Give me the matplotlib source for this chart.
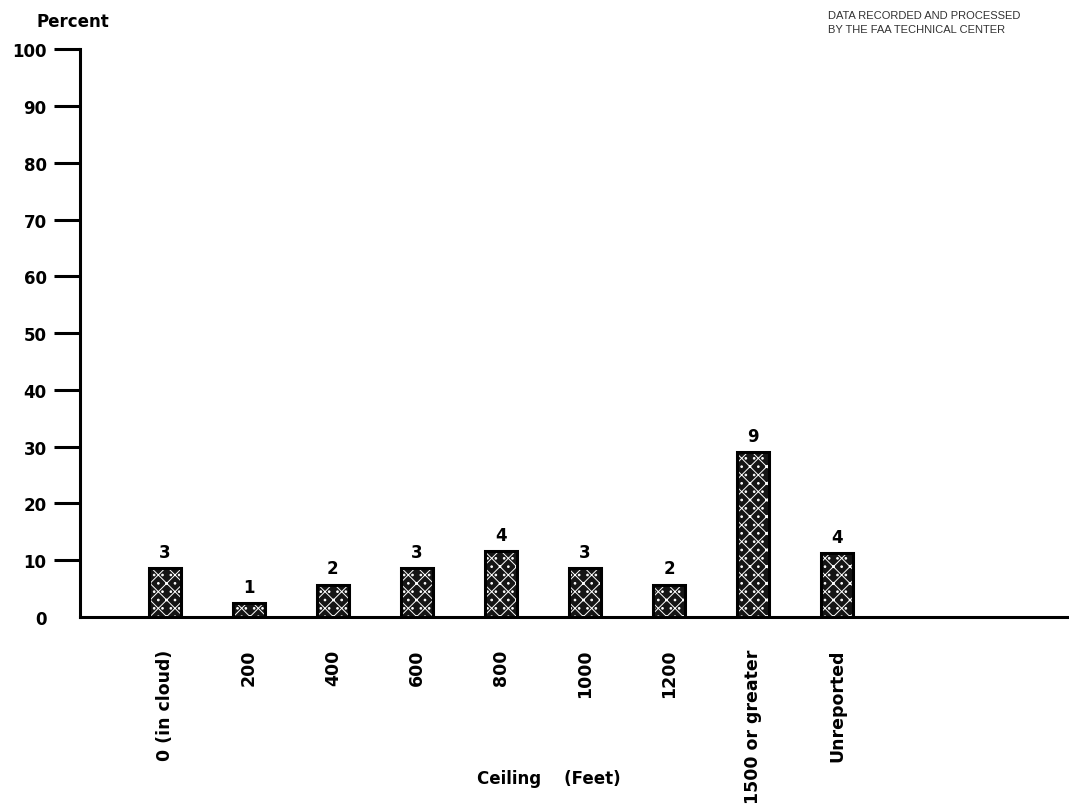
import matplotlib
matplotlib.use("Agg")
import matplotlib.pyplot as plt

categories = ["0 (in cloud)", "200", "400", "600", "800", "1000", "1200",
              "1500 or greater", "Unreported"]
counts = [3, 1, 2, 3, 4, 3, 2, 9, 4]
percent = [8.6, 2.4, 5.7, 8.6, 11.6, 8.6, 5.7, 29.0, 11.2]
yticks = [0, 10, 20, 30, 40, 50, 60, 70, 80, 90, 100]

plt.rcParams['font.family'] = ['DejaVu Sans']
plt.rcParams['hatch.linewidth'] = 0.7

fig = plt.figure(figsize=(10.69, 8.12), dpi=100)
ax = fig.add_axes([0.0748, 0.239, 0.9252, 0.699])

x = list(range(len(categories)))
w = 0.38
ax.bar(x, percent, width=w, color='#151515', edgecolor='white',
       hatch='xx..', linewidth=0, zorder=2)
ax.bar(x, percent, width=w, fill=False, edgecolor='black', linewidth=2.2,
       zorder=3)

for xi, p, c in zip(x, percent, counts):
    ax.text(xi, p + 1.3, str(c), ha='center', va='bottom', fontsize=12,
            fontweight='bold')

ax.set_xlim(-1.01, 10.76)
ax.set_ylim(0, 100)

ax.spines['top'].set_visible(False)
ax.spines['right'].set_visible(False)
ax.spines['left'].set_linewidth(2.2)
ax.spines['bottom'].set_linewidth(2.2)

ax.set_yticks(yticks)
ax.set_yticklabels([str(t) for t in yticks], fontsize=12, fontweight='bold')
ax.tick_params(axis='y', length=19, width=2.2, direction='out', pad=5)
for t in ax.yaxis.get_major_ticks():
    if t.get_loc() == 0:
        t.tick1line.set_visible(False)

ax.set_xticks(x)
ax.set_xticklabels(categories, rotation=90, fontsize=12.5, fontweight='bold',
                   va='top', ha='center')
ax.tick_params(axis='x', length=0, pad=23)

fig.text(0.034, 0.973, "Percent", fontsize=12, fontweight='bold',
         ha='left', va='center')
fig.text(0.513, 0.041, "Ceiling    (Feet)", fontsize=12, fontweight='bold',
         ha='center', va='center')
fig.text(0.775, 0.987, "DATA RECORDED AND PROCESSED\nBY THE FAA TECHNICAL CENTER",
         fontsize=8, color='#333333', ha='left', va='top', linespacing=1.5,
         family='Liberation Sans')

fig.savefig("out.png", dpi=100)
